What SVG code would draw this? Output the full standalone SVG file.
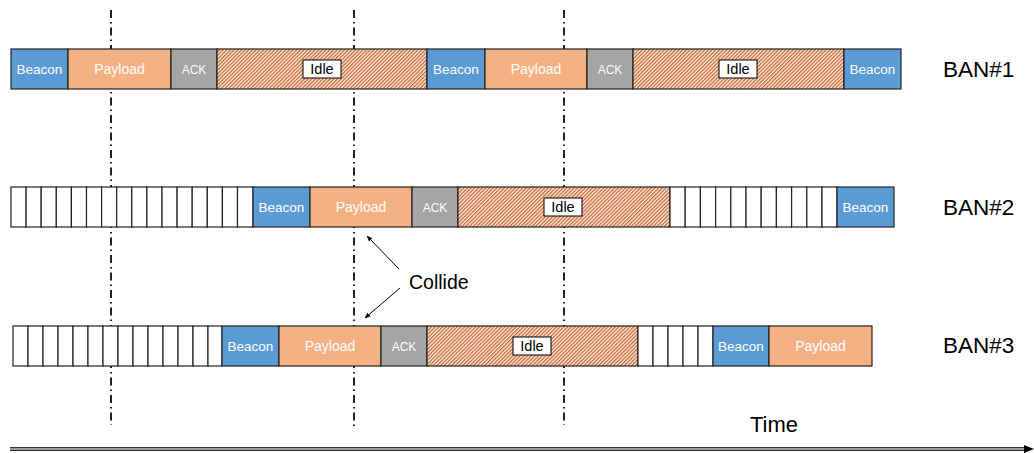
<svg xmlns="http://www.w3.org/2000/svg" width="1034" height="453" viewBox="0 0 1034 453">
  <defs>
    <pattern id="hatch" width="2.6" height="2.6" patternUnits="userSpaceOnUse" patternTransform="rotate(45)">
      <rect width="2.6" height="2.6" fill="#fdf3ec"/>
      <rect width="1.3" height="2.6" fill="#c9642c"/>
    </pattern>
    <marker id="arr" viewBox="0 0 10 10" refX="9" refY="5" markerWidth="6" markerHeight="6" orient="auto">
      <path d="M0,1 L10,5 L0,9 z" fill="#000"/>
    </marker>
  </defs>
  <style>
    .seg { stroke: #222; stroke-width: 1.2; }
    .beacon { fill: #5b9bd5; }
    .payload { fill: #f4b183; }
    .ack { fill: #a5a5a5; }
    .idle { fill: url(#hatch); }
    .slot { fill: #fff; stroke: #222; stroke-width: 1.2; }
    .wt { font-family: "Liberation Sans", Arial, sans-serif; fill: #fff; text-anchor: middle; }
    .bc { font-size: 13.5px; }
    .pl { font-size: 14px; }
    .ak { font-size: 12px; }
    .lbl { font-family: "Liberation Sans", Arial, sans-serif; fill: #000; font-size: 14.5px; text-anchor: middle; }
    .big { font-family: "Liberation Sans", Arial, sans-serif; fill: #000; font-size: 22.5px; }
    .note { font-family: "Liberation Sans", Arial, sans-serif; fill: #000; font-size: 19.5px; }
    .axis { font-family: "Liberation Sans", Arial, sans-serif; fill: #000; font-size: 22px; }
    .tag { fill: #fff; stroke: #000; stroke-width: 1; }
    .dd { stroke: #222; stroke-width: 2; stroke-dasharray: 8 4 1.5 4; fill: none; }
  </style>

  <!-- time markers run behind the frames -->
  <g id="markers">
    <line class="dd" x1="111" y1="10" x2="111" y2="425"/>
    <line class="dd" x1="354" y1="10" x2="354" y2="428"/>
    <line class="dd" x1="564" y1="10" x2="564" y2="425"/>
  </g>

  <!-- BAN#1 timeline -->
  <g id="ban1">
    <rect class="seg beacon" x="11" y="49" width="57" height="40"/>
    <text class="wt bc" x="39.5" y="74">Beacon</text>
    <rect class="seg payload" x="68" y="49" width="103" height="40"/>
    <text class="wt pl" x="119.5" y="74">Payload</text>
    <rect class="seg ack" x="171" y="49" width="46" height="40"/>
    <text class="wt ak" x="194" y="73.5">ACK</text>
    <rect class="seg idle" x="217" y="49" width="210" height="40"/>
    <rect class="tag" x="303" y="60" width="38" height="18"/>
    <text class="lbl" x="322" y="74">Idle</text>
    <rect class="seg beacon" x="427" y="49" width="58" height="40"/>
    <text class="wt bc" x="456" y="74">Beacon</text>
    <rect class="seg payload" x="485" y="49" width="102" height="40"/>
    <text class="wt pl" x="536" y="74">Payload</text>
    <rect class="seg ack" x="587" y="49" width="46" height="40"/>
    <text class="wt ak" x="610" y="73.5">ACK</text>
    <rect class="seg idle" x="633" y="49" width="211" height="40"/>
    <rect class="tag" x="719" y="60" width="38" height="18"/>
    <text class="lbl" x="738" y="74">Idle</text>
    <rect class="seg beacon" x="844" y="49" width="57" height="40"/>
    <text class="wt bc" x="872.5" y="74">Beacon</text>
    <text class="big" x="943" y="77">BAN#1</text>
  </g>

  <!-- BAN#2 timeline -->
  <g id="ban2">
    <g>
      <rect class="slot" x="11" y="187" width="15.1" height="40"/>
      <rect class="slot" x="26.1" y="187" width="15.1" height="40"/>
      <rect class="slot" x="41.2" y="187" width="15.1" height="40"/>
      <rect class="slot" x="56.3" y="187" width="15.1" height="40"/>
      <rect class="slot" x="71.4" y="187" width="15.1" height="40"/>
      <rect class="slot" x="86.5" y="187" width="15.1" height="40"/>
      <rect class="slot" x="101.6" y="187" width="15.1" height="40"/>
      <rect class="slot" x="116.7" y="187" width="15.1" height="40"/>
      <rect class="slot" x="131.8" y="187" width="15.1" height="40"/>
      <rect class="slot" x="146.9" y="187" width="15.1" height="40"/>
      <rect class="slot" x="162" y="187" width="15.1" height="40"/>
      <rect class="slot" x="177.1" y="187" width="15.1" height="40"/>
      <rect class="slot" x="192.2" y="187" width="15.1" height="40"/>
      <rect class="slot" x="207.3" y="187" width="15.1" height="40"/>
      <rect class="slot" x="222.4" y="187" width="15.1" height="40"/>
      <rect class="slot" x="237.5" y="187" width="15.5" height="40"/>
    </g>
    <rect class="seg beacon" x="253" y="187" width="57" height="40"/>
    <text class="wt bc" x="281.5" y="212">Beacon</text>
    <rect class="seg payload" x="310" y="187" width="102" height="40"/>
    <text class="wt pl" x="361" y="212">Payload</text>
    <rect class="seg ack" x="412" y="187" width="46" height="40"/>
    <text class="wt ak" x="435" y="211.5">ACK</text>
    <rect class="seg idle" x="458" y="187" width="212" height="40"/>
    <rect class="tag" x="544" y="198" width="38" height="18"/>
    <text class="lbl" x="563" y="212">Idle</text>
    <g>
      <rect class="slot" x="670" y="187" width="15.2" height="40"/>
      <rect class="slot" x="685.2" y="187" width="15.2" height="40"/>
      <rect class="slot" x="700.4" y="187" width="15.2" height="40"/>
      <rect class="slot" x="715.6" y="187" width="15.2" height="40"/>
      <rect class="slot" x="730.8" y="187" width="15.2" height="40"/>
      <rect class="slot" x="746" y="187" width="15.2" height="40"/>
      <rect class="slot" x="761.2" y="187" width="15.2" height="40"/>
      <rect class="slot" x="776.4" y="187" width="15.2" height="40"/>
      <rect class="slot" x="791.6" y="187" width="15.2" height="40"/>
      <rect class="slot" x="806.8" y="187" width="15.2" height="40"/>
      <rect class="slot" x="822" y="187" width="15" height="40"/>
    </g>
    <rect class="seg beacon" x="837" y="187" width="57" height="40"/>
    <text class="wt bc" x="865.5" y="212">Beacon</text>
    <text class="big" x="943" y="215">BAN#2</text>
  </g>

  <!-- BAN#3 timeline -->
  <g id="ban3">
    <g>
      <rect class="slot" x="13" y="326" width="15" height="40"/>
      <rect class="slot" x="28" y="326" width="15" height="40"/>
      <rect class="slot" x="43" y="326" width="15" height="40"/>
      <rect class="slot" x="58" y="326" width="15" height="40"/>
      <rect class="slot" x="73" y="326" width="15" height="40"/>
      <rect class="slot" x="88" y="326" width="15" height="40"/>
      <rect class="slot" x="103" y="326" width="15" height="40"/>
      <rect class="slot" x="118" y="326" width="15" height="40"/>
      <rect class="slot" x="133" y="326" width="15" height="40"/>
      <rect class="slot" x="148" y="326" width="15" height="40"/>
      <rect class="slot" x="163" y="326" width="15" height="40"/>
      <rect class="slot" x="178" y="326" width="15" height="40"/>
      <rect class="slot" x="193" y="326" width="15" height="40"/>
      <rect class="slot" x="208" y="326" width="14" height="40"/>
    </g>
    <rect class="seg beacon" x="222" y="326" width="57" height="40"/>
    <text class="wt bc" x="250.5" y="351">Beacon</text>
    <rect class="seg payload" x="279" y="326" width="102" height="40"/>
    <text class="wt pl" x="330" y="351">Payload</text>
    <rect class="seg ack" x="381" y="326" width="46" height="40"/>
    <text class="wt ak" x="404" y="350.5">ACK</text>
    <rect class="seg idle" x="427" y="326" width="211" height="40"/>
    <rect class="tag" x="513" y="337" width="38" height="18"/>
    <text class="lbl" x="532" y="351">Idle</text>
    <g>
      <rect class="slot" x="638" y="326" width="15" height="40"/>
      <rect class="slot" x="653" y="326" width="15" height="40"/>
      <rect class="slot" x="668" y="326" width="15" height="40"/>
      <rect class="slot" x="683" y="326" width="15" height="40"/>
      <rect class="slot" x="698" y="326" width="15" height="40"/>
    </g>
    <rect class="seg beacon" x="713" y="326" width="56" height="40"/>
    <text class="wt bc" x="741" y="351">Beacon</text>
    <rect class="seg payload" x="769" y="326" width="103" height="40"/>
    <text class="wt pl" x="820.5" y="351">Payload</text>
    <text class="big" x="943" y="353">BAN#3</text>
  </g>

  <!-- collision callout and time axis -->
  <g id="connectors">
    <line x1="399" y1="269" x2="367" y2="236" stroke="#000" stroke-width="1" marker-end="url(#arr)"/>
    <line x1="400" y1="288" x2="365" y2="318" stroke="#000" stroke-width="1" marker-end="url(#arr)"/>
    <line x1="10" y1="449" x2="1028" y2="449" stroke="#333" stroke-width="4"/>
    <line x1="10" y1="449" x2="1028" y2="449" stroke="#bbb" stroke-width="1.5"/>
    <path d="M1024,445 L1034,449 L1024,453 z" fill="#000"/>
  </g>

  <g id="labels">
    <text class="note" x="409" y="289">Collide</text>
    <text class="axis" x="750" y="432">Time</text>
  </g>
</svg>
